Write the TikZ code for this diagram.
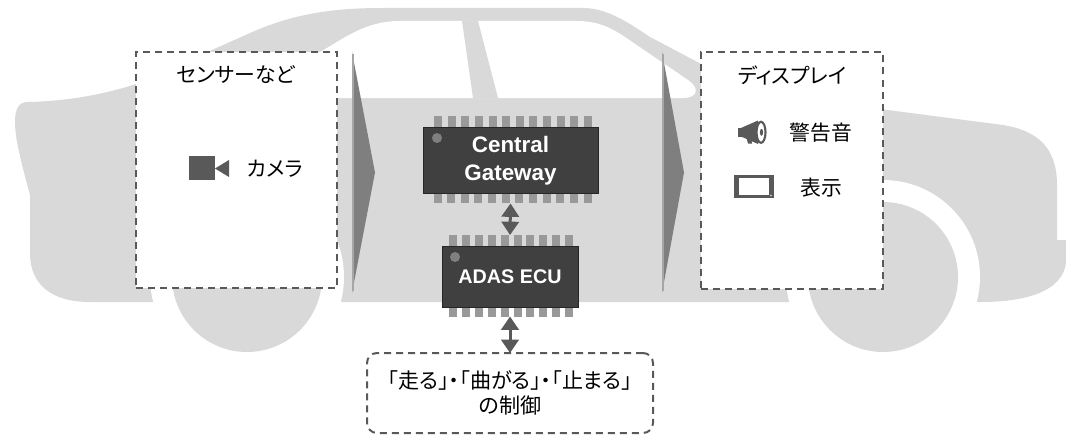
\documentclass[tikz,border=0pt]{standalone}
\usepackage{fontspec}
\setmainfont{Liberation Sans}
\newfontfamily\jp[RawFeature=+palt]{Noto Sans CJK JP}
\usetikzlibrary{arrows.meta}
\definecolor{carbody}{HTML}{D9D9D9}
\definecolor{ink}{HTML}{595959}
\definecolor{chipfill}{HTML}{404040}
\definecolor{chipedge}{HTML}{262626}
\definecolor{pincol}{HTML}{999999}
\definecolor{chev}{HTML}{7F7F7F}
\definecolor{chevlight}{HTML}{A6A6A6}
\begin{document}
\begin{tikzpicture}[x=0.75pt,y=-0.75pt,
  dashbox/.style={draw=ink, line width=1.5pt, dash pattern=on 5.25pt off 3.75pt,
    fill=white, inner sep=0pt, outer sep=0pt},
  chip/.style={fill=chipfill, draw=chipedge, line width=0.6pt, inner sep=0pt, outer sep=0pt,
    text=white, font=\bfseries},
  jptext/.style={font=\jp\fontsize{15.6}{18.75}\selectfont, text=black, inner sep=0pt},
  dblarrow/.style={draw=ink, line width=2.25pt, {Triangle[width=13pt,length=10pt]}-{Triangle[width=13pt,length=10pt]}},
  chevron/.style={fill=chev}]
\useasboundingbox (0,0) rectangle (1066,435);

% ---- car silhouette ----
\fill[carbody] (28,102) .. controls (70,101) and (105,94) .. (136,84)
  -- (250,33) .. controls (295,13) and (335,8) .. (383,8)
  -- (583,8) .. controls (605,8) and (625,20) .. (650,37)
  -- (705,66) -- (880,109) -- (1003,125)
  .. controls (1040,131) and (1057,150) .. (1057,185)
  -- (1057,240) -- (1066,240) -- (1066,263)
  .. controls (1062,292) and (1025,302) .. (980,302)
  -- (90,302)
  .. controls (52,302) and (30,285) .. (30,253)
  -- (30,195) .. controls (22,165) and (15,140) .. (15,122)
  .. controls (15,108) and (19,102) .. (28,102) -- cycle;
% side windows
\fill[white] (215,98) -- (320,52) .. controls (345,38) and (365,21) .. (400,21)
  -- (577,21) .. controls (597,21) and (610,27) .. (625,37)
  -- (688,80) .. controls (700,88) and (698,98) .. (683,98) -- cycle;
% pillar
\fill[carbody] (462,21) -- (478,21) -- (498,98) -- (473,98) -- cycle;
% wheel arches and wheels
\fill[white] (247,277) circle[radius=97];
\fill[white] (883,277) circle[radius=97];
\fill[carbody] (247,277) circle[radius=75];
\fill[carbody] (883,277) circle[radius=75];

% ---- flow chevrons ----
\fill[chevron] (352,52) -- (375,172.5) -- (352,293) -- cycle;
\draw[chevlight, line width=1.5pt] (353,54) -- (353,291);
\fill[chevron] (662,52) -- (684,172.5) -- (662,293) -- cycle;
\draw[chevlight, line width=1.5pt] (663,54) -- (663,291);

% ---- input and output boxes ----
\node[dashbox, minimum width=150.75pt, minimum height=177pt] (sens) at (236.5,170) {};
\node[dashbox, minimum width=136.5pt, minimum height=177pt] (disp) at (792,170.5) {};

\node[jptext] (senstitle) at (236,75) {センサーなど};
\fill[ink] (189,156) rectangle (215,180);
\fill[ink] (215,168.5) -- (229,160) -- (229,177) -- cycle;
\node[jptext, anchor=west] (cam) at (247,169) {カメラ};

\node[jptext] (disptitle) at (792,75) {ディスプレイ};
% megaphone
\fill[ink] (738,128) rectangle (741.5,136.5);
\fill[ink] (741,128) -- (758,120.5) -- (758,144) -- (741,136.5) -- cycle;
\fill[ink] (746,136) -- (751,136) -- (752,143.5) -- (748,143.5) -- cycle;
\draw[ink, line width=1.6pt, fill=white] (761,132.3) ellipse[x radius=4.5, y radius=10.5];
\fill[ink] (761.5,132.3) ellipse[x radius=1.6, y radius=3.5];
\node[jptext] (alarm) at (821,133) {警告音};
% screen
\fill[ink] (734,175) rectangle (774,198.3);
\fill[white] (739,177.5) rectangle (769,195);
\fill[white!80!ink] (771,195.5) circle[radius=0.9];
\node[jptext] (show) at (821,188) {表示};

% ---- chips ----
\foreach \i in {0,...,11}{
  \fill[pincol] ({434+\i*13.64},116) rectangle ++(8,11);
  \fill[pincol] ({433.5+\i*13.64},193) rectangle ++(8,10);
}
\node[chip, minimum width=131.25pt, minimum height=49.5pt, align=center,
  font=\bfseries\fontsize{16.8}{21}\selectfont] (gw) at (510.5,160.5) {Central\\Gateway};
\fill[gray] (437,138) circle[radius=5];

\foreach \i in {0,...,9}{
  \fill[pincol] ({449+\i*12.9},235) rectangle ++(8,11);
  \fill[pincol] ({449+\i*12.9},307) rectangle ++(8,9.5);
}
\node[chip, minimum width=102pt, minimum height=45.75pt,
  font=\bfseries\fontsize{14.8}{17}\selectfont] (ecu) at (510,276.5) {ADAS ECU};
\fill[gray] (455,257) circle[radius=5];

% ---- vehicle control box ----
\node[dashbox, rounded corners=7.5pt, minimum width=214.5pt, minimum height=60pt,
  align=center, font=\jp\fontsize{15.8}{18.75}\selectfont] (ctl) at (510,393)
  {「走る」・「曲がる」・「止まる」\\の制御};

% ---- links ----
\draw[dblarrow] ([yshift=-7.5pt]gw.south) -- ([yshift=8.25pt]ecu.north);
\draw[dblarrow] ([yshift=-7.1pt]ecu.south) -- (ctl.north);
\end{tikzpicture}
\end{document}
